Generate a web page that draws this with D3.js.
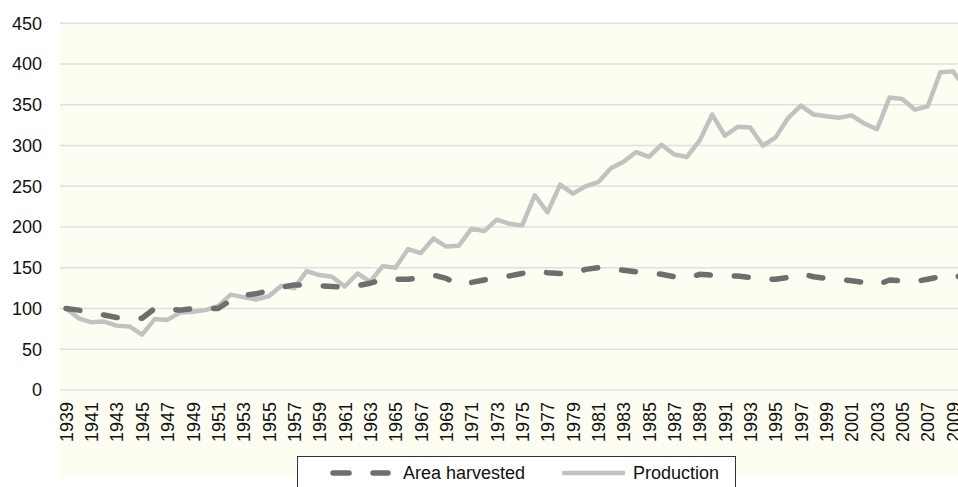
<!DOCTYPE html>
<html>
<head>
<meta charset="utf-8">
<script src="https://cdn.jsdelivr.net/npm/d3@7"></script>
<style>
  body { margin: 0; background: #fff; }
  svg { display: block; font-family: "Liberation Sans", Arial, Helvetica, sans-serif; }
</style>
</head>
<body>
<div id="chart"></div>
<script>
const years = d3.range(1939, 2011);

const areaHarvested = [
  100, 98, 95, 92, 89, 88, 88, 100, 99, 98,
  100, 100, 100, 110, 116, 118, 122, 126, 129, 129,
  128, 127, 126, 128, 131, 136, 136, 136, 138, 141,
  137, 129, 132, 135, 138, 140, 143, 146, 144, 143,
  143, 148, 150, 149, 147, 145, 144, 142, 139, 137,
  142, 141, 140, 140, 138, 136, 136, 138, 143, 139,
  137, 136, 134, 132, 129, 135, 134, 133, 136, 139,
  142, 136
];

const production = [
  100, 88, 83, 84, 79, 78, 68, 87, 86, 95,
  96, 98, 103, 117, 114, 111, 115, 128, 125, 146,
  141, 139, 127, 143, 133, 152, 150, 173, 168, 186,
  176, 177, 198, 195, 209, 204, 202, 239, 218, 252,
  241, 250, 255, 272, 280, 292, 286, 301, 289, 286,
  306, 338, 312, 323, 322, 300, 310, 334, 349, 338,
  336, 334, 337, 327, 320, 359, 357, 344, 348, 390,
  391, 370
];

const yTicks = [0, 50, 100, 150, 200, 250, 300, 350, 400, 450];
const xTickYears = d3.range(1939, 2010, 2);

const legendItems = ["Area harvested", "Production"];

const W = 958, H = 487;

const svg = d3.select("#chart")
  .append("svg")
  .attr("width", W)
  .attr("height", H);

const x = d3.scaleLinear().domain([1939, 2009]).range([66, 953]);
const y = d3.scaleLinear().domain([0, 450]).range([390, 23.3]);

// cream plot background (runs under the year labels too)
svg.append("rect")
  .attr("x", 60)
  .attr("y", y(450))
  .attr("width", W - 60)
  .attr("height", 477 - y(450))
  .attr("fill", "#fdfdf1");

// gridlines
svg.append("g")
  .selectAll("line")
  .data(yTicks)
  .enter().append("line")
  .attr("x1", 60)
  .attr("x2", W)
  .attr("y1", d => y(d))
  .attr("y2", d => y(d))
  .attr("stroke", "#e0e0e0")
  .attr("stroke-width", 1.5);

// y axis labels
const yAxis = svg.append("g")
  .attr("transform", "translate(42,0)")
  .call(d3.axisLeft(y).tickValues(yTicks).tickSize(0).tickPadding(0));
yAxis.select(".domain").remove();
yAxis.selectAll("text")
  .attr("font-size", 18)
  .attr("font-family", "Liberation Sans, Arial, sans-serif")
  .attr("fill", "#111");

// x axis labels, rotated
const xAxis = svg.append("g")
  .attr("transform", "translate(0,390)")
  .call(d3.axisBottom(x).tickValues(xTickYears).tickFormat(d3.format("d")).tickSize(0));
xAxis.select(".domain").remove();
xAxis.selectAll("text")
  .attr("font-size", 18)
  .attr("font-family", "Liberation Sans, Arial, sans-serif")
  .attr("fill", "#111")
  .attr("text-anchor", "end")
  .attr("dy", "0.35em")
  .attr("transform", "translate(0,12) rotate(-90)")
  .attr("x", 0)
  .attr("y", 0);

const line = d3.line()
  .x((d, i) => x(years[i]))
  .y(d => y(d));

svg.append("path")
  .datum(production)
  .attr("d", line)
  .attr("fill", "none")
  .attr("stroke", "#c2c2c2")
  .attr("stroke-width", 4.5)
  .attr("stroke-linejoin", "round");

svg.append("path")
  .datum(areaHarvested)
  .attr("d", line)
  .attr("fill", "none")
  .attr("stroke", "#6e6e6e")
  .attr("stroke-width", 5.5)
  .attr("stroke-linejoin", "round")
  .attr("stroke-linecap", "round")
  .attr("stroke-dasharray", "14 24");

// legend
const legend = svg.append("g");
legend.append("rect")
  .attr("x", 297.5)
  .attr("y", 456.5)
  .attr("width", 438)
  .attr("height", 60)
  .attr("fill", "#fff")
  .attr("stroke", "#333")
  .attr("stroke-width", 1);

legend.append("line")
  .attr("x1", 333).attr("x2", 388)
  .attr("y1", 473).attr("y2", 473)
  .attr("stroke", "#6e6e6e")
  .attr("stroke-width", 5.5)
  .attr("stroke-linecap", "round")
  .attr("stroke-dasharray", "16 24");
legend.append("text")
  .attr("x", 403).attr("y", 479)
  .attr("font-size", 18)
  .attr("fill", "#111")
  .text(legendItems[0]);

legend.append("line")
  .attr("x1", 562).attr("x2", 625)
  .attr("y1", 473).attr("y2", 473)
  .attr("stroke", "#c2c2c2")
  .attr("stroke-width", 4.5);
legend.append("text")
  .attr("x", 633).attr("y", 479)
  .attr("font-size", 18)
  .attr("fill", "#111")
  .text(legendItems[1]);
</script>
</body>
</html>
